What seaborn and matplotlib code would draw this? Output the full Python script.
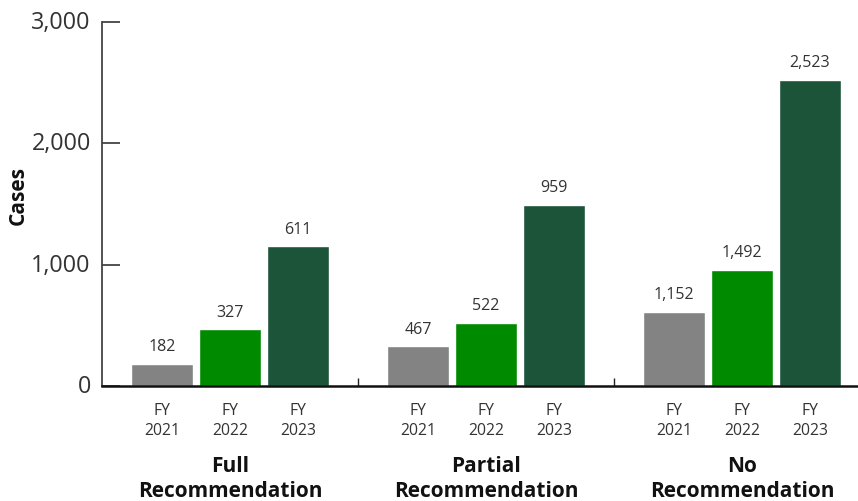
import matplotlib
matplotlib.use("Agg")
import matplotlib.pyplot as plt
import matplotlib.transforms as mtransforms
import seaborn as sns
import pandas as pd

# ---- data ----
groups = ["Full\nRecommendation", "Partial\nRecommendation", "No\nRecommendation"]
years = ["FY\n2021", "FY\n2022", "FY\n2023"]
# bar heights as drawn in the reference (per year, across groups)
heights_2021 = [182, 327, 611]
heights_2022 = [467, 522, 959]
heights_2023 = [1152, 1492, 2523]
# value labels as printed above the bars (per year, across groups)
labels_2021 = ["182", "467", "1,152"]
labels_2022 = ["327", "522", "1,492"]
labels_2023 = ["611", "959", "2,523"]
yticks = [0, 1000, 2000, 3000]
ytick_labels = ["0", "1,000", "2,000", "3,000"]
colors = ["#838383", "#008a00", "#1c543a"]

sns.set_theme(style="white")
plt.rcParams["font.family"] = ["Open Sans", "DejaVu Sans"]
text_color = "#333333"

rows = []
for yr, hs in zip(years, [heights_2021, heights_2022, heights_2023]):
    for g, h in zip(groups, hs):
        rows.append({"group": g, "year": yr, "cases": h})
df = pd.DataFrame(rows)

fig = plt.figure(figsize=(8.58, 5.02), dpi=100)
ax = fig.add_axes([102 / 858, 1 - 387 / 502, 1 - 102 / 858, (387 - 23) / 502])

sns.barplot(data=df, x="group", y="cases", hue="year", order=groups,
            hue_order=years, palette=colors, width=0.797, gap=0.09,
            saturation=1, legend=False, ax=ax)

for cont, labs in zip(ax.containers, [labels_2021, labels_2022, labels_2023]):
    ax.bar_label(cont, labels=labs, padding=7, fontsize=11.5, color=text_color)

ax.set_ylim(0, 3000)
ax.set_xlim(-0.5, 2.453)
ax.set_yticks(yticks)
ax.set_yticklabels(ytick_labels, fontsize=16.8, color=text_color)
ax.tick_params(axis="y", direction="in", length=13, width=1.3, color="#444444", pad=8, left=True)
shift = mtransforms.ScaledTranslation(0, 3 / 100, fig.dpi_scale_trans)
for lab in ax.get_yticklabels():
    lab.set_transform(lab.get_transform() + shift)
ax.set_xticks([0.5, 1.5])
ax.set_xticklabels([])
ax.tick_params(axis="x", direction="in", length=6, width=1.0, color="#222222", bottom=True)

for s in ["top", "right"]:
    ax.spines[s].set_visible(False)
ax.spines["left"].set_color("#444444")
ax.spines["left"].set_linewidth(1.3)
ax.spines["bottom"].set_color("#111111")
ax.spines["bottom"].set_linewidth(1.8)

ax.set_xlabel("")
ax.set_ylabel("")
fig.text(18 / 858, 1 - 196 / 502, "Cases", rotation=90, ha="center", va="center",
         fontsize=15, fontweight="bold", color="#111111")

trans = mtransforms.blended_transform_factory(ax.transData, fig.transFigure)
for cont, yr in zip(ax.containers, years):
    for bar in cont:
        cx = bar.get_x() + bar.get_width() / 2
        ax.text(cx, 1 - 421 / 502, yr, transform=trans, ha="center", va="center",
                fontsize=11.3, color=text_color, linespacing=1.4)
for i, g in enumerate(groups):
    ax.text(i, 1 - 479 / 502, g, transform=trans, ha="center", va="center",
            fontsize=15, fontweight="bold", color="#111111", linespacing=1.2)

fig.savefig("out.png", dpi=100)
